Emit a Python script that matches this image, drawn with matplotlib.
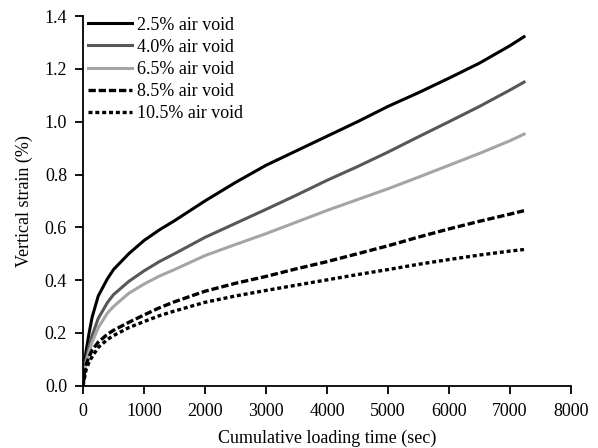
import matplotlib
matplotlib.use("Agg")
import matplotlib.pyplot as plt

plt.rcParams['font.family'] = ['Liberation Serif', 'DejaVu Serif']

time_sec = [0, 25, 50, 100, 150, 250, 400, 500, 750, 1000, 1250, 1500, 2000, 2500, 3000,
            3500, 4000, 4500, 5000, 5500, 6000, 6500, 7000, 7230]
strain_2_5 = [0, 0.08, 0.13, 0.20, 0.26, 0.34, 0.405, 0.44, 0.50, 0.55, 0.59, 0.625, 0.70,
              0.77, 0.835, 0.89, 0.945, 1.0, 1.058, 1.11, 1.165, 1.222, 1.288, 1.322]
strain_4_0 = [0, 0.06, 0.10, 0.15, 0.19, 0.255, 0.315, 0.345, 0.395, 0.435, 0.47, 0.50,
              0.562, 0.615, 0.668, 0.722, 0.778, 0.83, 0.885, 0.943, 1.0, 1.058, 1.12, 1.15]
strain_6_5 = [0, 0.05, 0.09, 0.13, 0.165, 0.22, 0.275, 0.30, 0.35, 0.385, 0.415, 0.44,
              0.493, 0.535, 0.576, 0.62, 0.664, 0.705, 0.746, 0.79, 0.835, 0.88, 0.928, 0.953]
strain_8_5 = [0, 0.05, 0.08, 0.11, 0.135, 0.165, 0.195, 0.21, 0.24, 0.268, 0.295, 0.318,
              0.358, 0.388, 0.414, 0.443, 0.47, 0.50, 0.53, 0.563, 0.594, 0.623, 0.65, 0.663]
strain_10_5 = [0, 0.03, 0.06, 0.09, 0.11, 0.145, 0.175, 0.19, 0.22, 0.243, 0.265, 0.283,
               0.316, 0.34, 0.361, 0.381, 0.401, 0.421, 0.44, 0.46, 0.478, 0.495, 0.51, 0.516]
labels = ["2.5% air void", "4.0% air void", "6.5% air void", "8.5% air void", "10.5% air void"]

fig = plt.figure(figsize=(5.98, 4.48), dpi=100)
ax = fig.add_axes([0.1388, 0.139, 0.8160, 0.825])

ax.plot(time_sec, strain_2_5, color='black', lw=2.2, label=labels[0])
ax.plot(time_sec, strain_4_0, color='#575757', lw=2.2, label=labels[1])
ax.plot(time_sec, strain_6_5, color='#a5a5a5', lw=2.2, label=labels[2])
ax.plot(time_sec, strain_8_5, color='black', lw=2.4, ls=(0, (2.2, 0.85)), label=labels[3])
ax.plot(time_sec, strain_10_5, color='black', lw=2.4, ls=(0, (1.2, 0.85)), label=labels[4])

ax.set_xlim(0, 8000)
ax.set_ylim(0, 1.4)
ax.set_xticks(range(0, 8001, 1000))
ax.set_yticks([0.0, 0.2, 0.4, 0.6, 0.8, 1.0, 1.2, 1.4])
ax.set_yticklabels(["0.0", "0.2", "0.4", "0.6", "0.8", "1.0", "1.2", "1.4"])
for s in ['top', 'right']:
    ax.spines[s].set_visible(False)
for s in ['left', 'bottom']:
    ax.spines[s].set_linewidth(1.3)
ax.tick_params(axis='x', direction='out', length=5.5, width=1.3, labelsize=13, pad=7)
ax.tick_params(axis='y', direction='out', length=5.5, width=1.3, labelsize=13, pad=6)
ax.set_xlabel("Cumulative loading time (sec)", fontsize=13, labelpad=7)
ax.set_ylabel("Vertical strain (%)", fontsize=13, labelpad=8)

leg = ax.legend(loc='upper left', frameon=False, fontsize=13, handlelength=2.4,
                handletextpad=0.3, labelspacing=0.28, borderaxespad=0.0, borderpad=0.3,
                bbox_to_anchor=(0.0, 1.013))

fig.savefig("out.png", dpi=100)
